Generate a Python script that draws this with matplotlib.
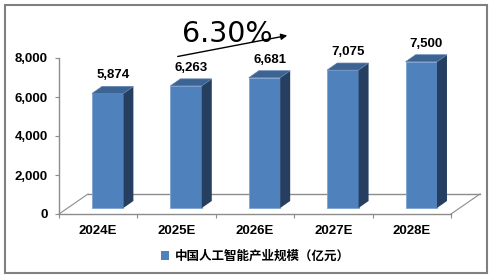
import matplotlib
matplotlib.use("Agg")
import matplotlib.pyplot as plt
from matplotlib.patches import Polygon, Rectangle, Patch, FancyArrowPatch
from matplotlib.transforms import ScaledTranslation
from matplotlib.ticker import FuncFormatter

# data
anos = ["2024E", "2025E", "2026E", "2027E", "2028E"]
valores = [5874, 6263, 6681, 7075, 7500]
etiquetas = ["5,874", "6,263", "6,681", "7,075", "7,500"]
serie = "中国人工智能产业规模（亿元）"
tasa = "6.30%"

plt.rcParams['font.family'] = ['Liberation Sans', 'Noto Sans CJK SC']

W, H = 495, 280
fig = plt.figure(figsize=(W / 100, H / 100), dpi=100)

# axes geometry in pixels
x0, x1 = 59, 451
y0, y1 = 214, 58
ax = fig.add_axes([x0 / W, 1 - y0 / H, (x1 - x0) / W, (y0 - y1) / H])
ax.set_xlim(-0.5, 4.5)
ax.set_ylim(0, 8000)
ppx = (x1 - x0) / 5.0
ppy = (y0 - y1) / 8000.0

frente = ax.transData + ScaledTranslation(9.5 / 100, 6 / 100, fig.dpi_scale_trans)
dx = 10 / ppx
dy = 7 / ppy
w = 0.4
c_frente = "#4F81BD"
c_lado = "#263F60"
c_tope = "#3C6391"

# floor
fdx = 29 / ppx
fdy = 20 / ppy
gris = "#8C8C8C"
ax.plot([-0.5 + fdx, 4.5 + fdx], [fdy, fdy], color=gris, lw=1, clip_on=False, zorder=1)
ax.plot([-0.5, -0.5 + fdx], [0, fdy], color=gris, lw=0.8, clip_on=False, zorder=1)
ax.plot([4.5, 4.5 + fdx], [0, fdy], color=gris, lw=0.8, clip_on=False, zorder=1)

xs = list(range(len(anos)))
ax.bar(xs, valores, width=w, color=c_frente, edgecolor="#7FA3D3", linewidth=0.6,
       transform=frente, zorder=3)
for i, v in enumerate(valores):
    xr = i + w / 2
    xl = i - w / 2
    lado = Polygon([(xr, 0), (xr, v), (xr + dx, v + dy), (xr + dx, dy)],
                   closed=True, facecolor=c_lado, edgecolor="none",
                   transform=frente, zorder=3, clip_on=False)
    tope = Polygon([(xl, v), (xr, v), (xr + dx, v + dy), (xl + dx, v + dy)],
                   closed=True, facecolor=c_tope, edgecolor="#5A7FB0", linewidth=0.5,
                   transform=frente, zorder=3, clip_on=False)
    ax.add_patch(lado)
    ax.add_patch(tope)
    ax.text(i + dx / 2, v + dy + 5 / ppy, etiquetas[i], transform=frente,
            ha="center", va="bottom", fontsize=9.5, fontweight="bold", zorder=4)

# axes style
for s in ["top", "right"]:
    ax.spines[s].set_visible(False)
for s in ["left", "bottom"]:
    ax.spines[s].set_color(gris)
    ax.spines[s].set_linewidth(1)
ax.set_yticks([0, 2000, 4000, 6000, 8000])
ax.yaxis.set_major_formatter(FuncFormatter(lambda v, p: f"{int(v):,}"))
ax.tick_params(axis="y", length=3, width=0.8, color=gris, pad=5, labelsize=9.5)
ax.set_xticks(xs)
ax.set_xticklabels(anos)
ax.set_xticks([-0.5, 0.5, 1.5, 2.5, 3.5, 4.5], minor=True)
ax.tick_params(axis="x", which="major", length=0, pad=8, labelsize=9.5)
ax.tick_params(axis="x", which="minor", length=3, width=0.8, color=gris)
for lab in ax.get_xticklabels() + ax.get_yticklabels():
    lab.set_fontweight("bold")

# growth annotation
fig.text(227 / W, 1 - 42.5 / H, tasa, ha="center", va="baseline", fontsize=20.5,
         family="DejaVu Sans")
fig.add_artist(FancyArrowPatch(
    (175 / W, 1 - 57 / H), (290 / W, 1 - 35 / H), transform=fig.transFigure,
    arrowstyle="-|>", mutation_scale=9, lw=1, color="black"))

# legend
fig.legend(handles=[Patch(facecolor=c_frente, edgecolor="none", label=serie)],
           loc="center", bbox_to_anchor=(255 / W, 1 - 256 / H), frameon=False,
           handlelength=0.7, handleheight=0.7, handletextpad=0.4,
           prop={"family": ["Noto Sans CJK SC"], "weight": "bold", "size": 9})

# outer border
fig.add_artist(Rectangle((5 / W, 1 - 273 / H), 482 / W, 268 / H, transform=fig.transFigure,
                         fill=False, edgecolor="#808080", lw=1.5))

fig.savefig("out.png", dpi=100)
